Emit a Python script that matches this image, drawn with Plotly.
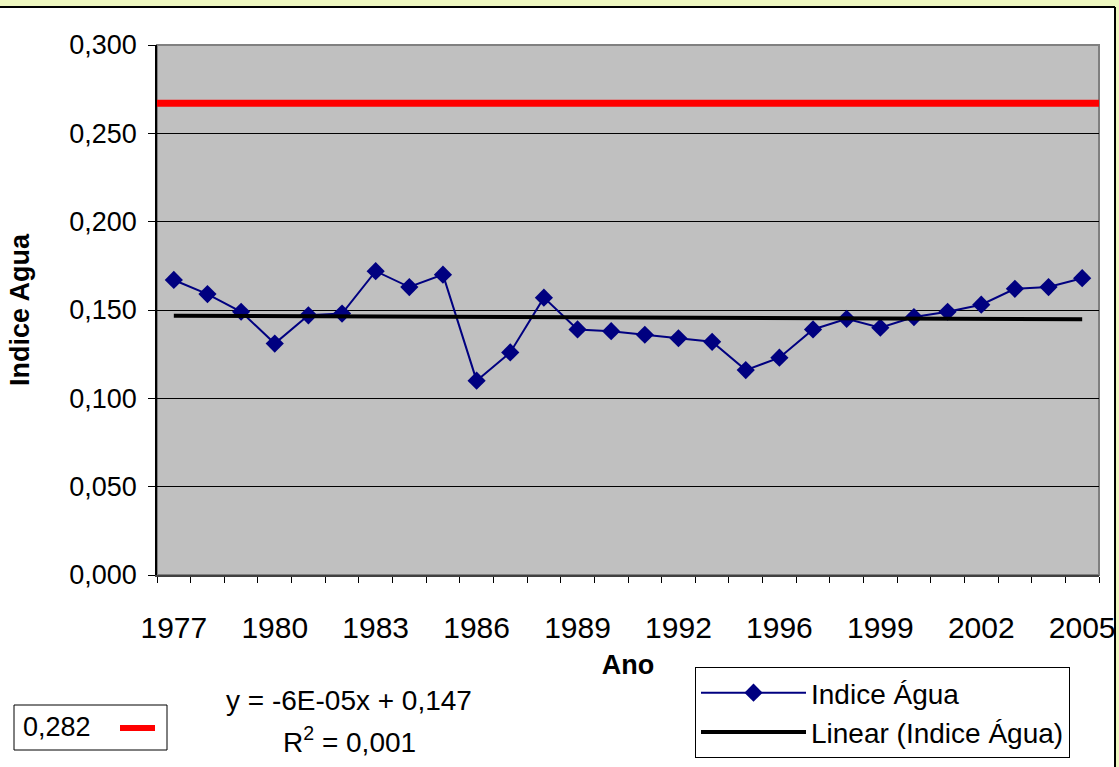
import numpy as np
import plotly.graph_objects as go

# Data (1995 is absent from the series)
years = list(range(1977, 1995)) + list(range(1996, 2006))
indice_agua = [0.167, 0.159, 0.149, 0.131, 0.147, 0.148, 0.172, 0.163, 0.170, 0.110,
               0.126, 0.157, 0.139, 0.138, 0.136, 0.134, 0.132, 0.116, 0.123, 0.139,
               0.145, 0.140, 0.146, 0.149, 0.153, 0.162, 0.163, 0.168]
ref_value = 0.267
ref_label = "0,282"
trend_eq = "y = -6E-05x + 0,147"
trend_r2 = "R<sup>2</sup> = 0,001"

FONT = "Arial, 'Liberation Sans', sans-serif"
W, H = 1119, 767
L, R, T, B = 157, 20, 45, 192
PW, PH = W - L - R, H - T - B


def px(x):
    return (x - L) / PW


def py(y):
    return (H - B - y) / PH


idx = list(range(len(years)))
tick_idx = idx[::3]

# linear trendline (Excel-style, x = 1..n)
slope, intercept = np.polyfit(np.arange(1, len(idx) + 1), indice_agua, 1)
trend = [slope * (i + 1) + intercept for i in idx]

fig = go.Figure()

fig.add_trace(go.Scatter(
    x=idx, y=indice_agua,
    mode='lines+markers',
    name='Indice Água',
    line=dict(color='#000080', width=2),
    marker=dict(symbol='diamond', size=14, color='#000080')
))

fig.add_trace(go.Scatter(
    x=idx, y=trend,
    mode='lines',
    name='Linear (Indice Água)',
    line=dict(color='black', width=4)
))

# reference line
fig.add_hline(y=ref_value, line=dict(color='#FF0000', width=7))

# plot area outline (gray top/right)
fig.add_shape(type='rect', xref='paper', yref='paper', x0=0, x1=1, y0=0, y1=1,
              line=dict(color='#808080', width=2), layer='below')

# outer chart frame on yellow page
fig.add_shape(type='rect', xref='paper', yref='paper', x0=px(-2), x1=px(W + 2), y0=py(-2), y1=py(7),
              line=dict(width=0), fillcolor='#EEF7C0', layer='above')
fig.add_shape(type='rect', xref='paper', yref='paper', x0=px(1116), x1=px(W + 2), y0=py(H + 2), y1=py(-2),
              line=dict(width=0), fillcolor='#EEF7C0', layer='above')
fig.add_shape(type='line', xref='paper', yref='paper', x0=px(-2), x1=px(1115), y0=py(7), y1=py(7),
              line=dict(color='black', width=2))
fig.add_shape(type='line', xref='paper', yref='paper', x0=px(1115), x1=px(1115), y0=py(7), y1=py(H + 2),
              line=dict(color='black', width=2))

# text box with the reference value
fig.add_shape(type='rect', xref='paper', yref='paper', x0=px(14), x1=px(167), y0=py(750), y1=py(705),
              line=dict(color='black', width=1), fillcolor='white')
fig.add_shape(type='line', xref='paper', yref='paper', x0=px(120), x1=px(155), y0=py(728), y1=py(728),
              line=dict(color='#FF0000', width=6))
fig.add_annotation(x=px(21), y=py(727), xref='paper', yref='paper', text=ref_label,
                   showarrow=False, xanchor='left', yanchor='middle',
                   font=dict(family=FONT, size=27, color='black'))

# trendline equation
fig.add_annotation(x=px(349), y=py(700), xref='paper', yref='paper', text=trend_eq,
                   showarrow=False, xanchor='center', yanchor='middle',
                   font=dict(family=FONT, size=28, color='black'))
fig.add_annotation(x=px(349), y=py(740), xref='paper', yref='paper', text=trend_r2,
                   showarrow=False, xanchor='center', yanchor='middle',
                   font=dict(family=FONT, size=28, color='black'))

fig.update_xaxes(
    range=[-0.5, len(idx) - 0.5],
    tickmode='array', tickvals=tick_idx, ticktext=[str(years[i]) for i in tick_idx],
    ticks='', ticklabelstandoff=25,
    minor=dict(ticks='outside', tick0=0.5, dtick=1, ticklen=6, tickcolor='black', showgrid=False),
    showgrid=False, zeroline=False,
    showline=True, linecolor='#404040', linewidth=2,
    tickfont=dict(family=FONT, size=30, color='black'),
    title=dict(text='<b>Ano</b>', standoff=12, font=dict(family=FONT, size=27, color='black'))
)

fig.update_yaxes(
    range=[0, 0.3], dtick=0.05, tickformat='.3f',
    ticks='outside', ticklen=7, tickcolor='black',
    showgrid=True, gridcolor='black', gridwidth=1, zeroline=False,
    showline=True, linecolor='black', linewidth=1.5,
    ticklabelstandoff=6,
    tickfont=dict(family=FONT, size=27, color='black'),
    title=dict(text='<b>Indice Agua</b>', standoff=32, font=dict(family=FONT, size=27, color='black'))
)

fig.update_layout(
    width=W, height=H,
    margin=dict(l=L, r=R, t=T, b=B, autoexpand=False),
    paper_bgcolor='white', plot_bgcolor='#C0C0C0',
    separators=',.',
    showlegend=True,
    legend=dict(
        x=px(695), y=py(667), xanchor='left', yanchor='top',
        bgcolor='white', bordercolor='black', borderwidth=1,
        font=dict(family=FONT, size=28, color='black'),
        itemwidth=105
    )
)

fig.write_html("out.html", config={'displayModeBar': False},
               post_script="document.body.style.margin='0px';")
